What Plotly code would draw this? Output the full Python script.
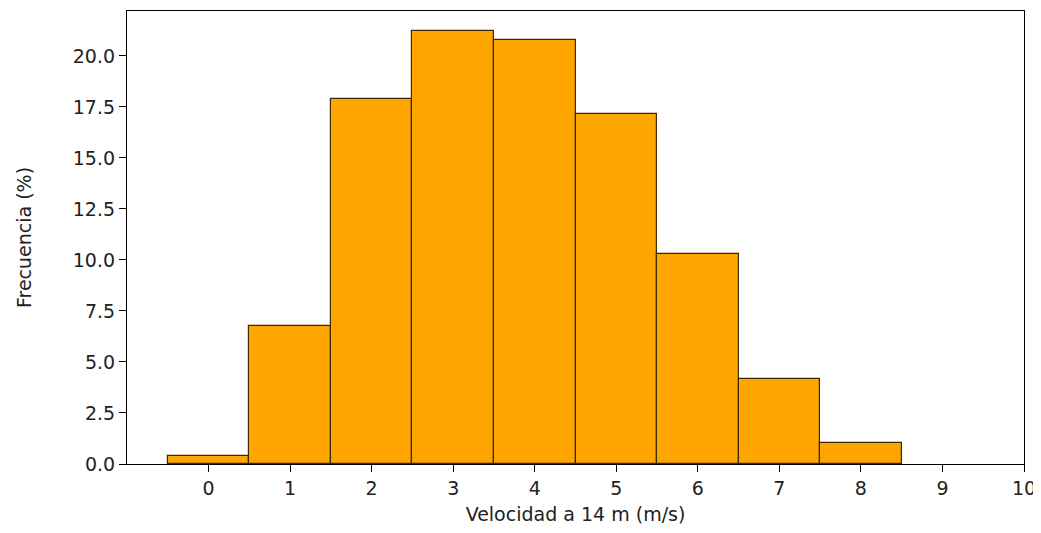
import plotly.graph_objects as go

velocidad = [0, 1, 2, 3, 4, 5, 6, 7, 8]
frecuencia = [0.4, 6.75, 17.9, 21.2, 20.8, 17.15, 10.3, 4.15, 1.03]
x_ticks = list(range(0, 11))
y_ticks = [0, 2.5, 5, 7.5, 10, 12.5, 15, 17.5, 20]

fig = go.Figure()
fig.add_trace(go.Bar(
    x=velocidad, y=frecuencia, width=1,
    marker=dict(color="#FFA500", line=dict(color="#3d2b00", width=1.2)),
))

axis_common = dict(
    showgrid=False, zeroline=False, showline=True, linecolor="black", linewidth=1.2,
    mirror=True, ticks="outside", ticklen=7, tickwidth=1.2, tickcolor="black",
    tickfont=dict(family="DejaVu Sans", size=19, color="#222"),
)
fig.update_layout(
    width=1033, height=517,
    margin=dict(l=119, r=17, t=2, b=60),
    paper_bgcolor="white", plot_bgcolor="white",
    showlegend=False, bargap=0,
    font=dict(family="DejaVu Sans", size=19, color="#222"),
    xaxis=dict(range=[-1, 10], tickvals=x_ticks,
               title=dict(text="Velocidad a 14 m (m/s)", standoff=11, font=dict(size=19)),
               **axis_common),
    yaxis=dict(range=[0, 22.2], tickvals=y_ticks, tickformat=".1f",
               title=dict(text="Frecuencia (%)", standoff=36, font=dict(size=19)),
               **axis_common),
)
fig.write_html("out.html")
